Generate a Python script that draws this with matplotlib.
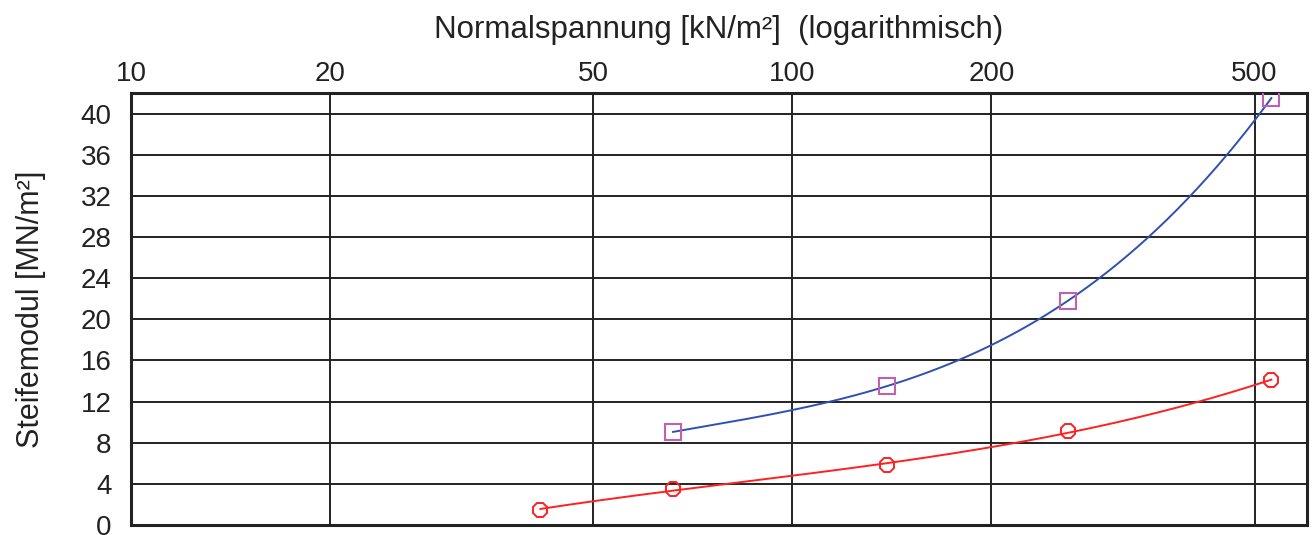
import numpy as np
import matplotlib
matplotlib.use("Agg")
import matplotlib.pyplot as plt
from matplotlib.ticker import FixedLocator, FixedFormatter, NullLocator

plt.rcParams['font.family'] = ['Liberation Sans', 'DejaVu Sans']

# Data
sq_x = [66, 139, 261, 530]
sq_y = [9.05, 13.5, 21.8, 41.5]
ci_x = [41.6, 66, 139, 261, 530]
ci_y = [1.5, 3.5, 5.8, 9.1, 14.1]
x_ticks = [10, 20, 50, 100, 200, 500]
x_ticklabels = ['10', '20', '50', '100', '200', '500']
y_ticks = list(range(0, 41, 4))

fig = plt.figure(figsize=(13.13, 5.35), dpi=100)
ax = fig.add_axes([0.0998, 0.0187, 0.8956, 0.8075])
ax.set_xscale('log')
ax.set_xlim(10, 600)
ax.set_ylim(0, 42)

def smooth(xs, ys, deg):
    lx = np.log10(xs)
    c = np.polyfit(lx, ys, deg)
    xx = np.linspace(lx[0], lx[-1], 300)
    return 10 ** xx, np.polyval(c, xx)

bx, by = smooth(sq_x, sq_y, 3)
rx, ry = smooth(ci_x, ci_y, 3)
ax.plot(bx, by, color='#3050b0', lw=1.4, zorder=3)
ax.plot(rx, ry, color='#ff2020', lw=1.4, zorder=3)
ax.plot(sq_x, sq_y, ls='none', marker='s', ms=11.5, mfc='none', mec='#c060b0', mew=1.5, zorder=4)
ax.plot(ci_x, ci_y, ls='none', marker='8', ms=11, mfc='none', mec='#ff2020', mew=1.4, zorder=4)

ax.xaxis.set_major_locator(FixedLocator(x_ticks))
ax.xaxis.set_major_formatter(FixedFormatter(x_ticklabels))
ax.xaxis.set_minor_locator(NullLocator())
ax.set_yticks(y_ticks)
ax.xaxis.tick_top()
ax.xaxis.set_label_position('top')
ax.tick_params(axis='both', length=0, labelsize=20, colors='#222222')
ax.tick_params(axis='x', pad=4)
ax.tick_params(axis='y', pad=14)
ax.grid(True, color='#222222', lw=1.4)
for s in ax.spines.values():
    s.set_linewidth(2.2)
    s.set_color('#222222')

ax.set_xlabel('Normalspannung [kN/m²]  (logarithmisch)', fontsize=22.5, color='#222222', labelpad=17)
ax.set_ylabel('Steifemodul [MN/m²]', fontsize=22, color='#222222', labelpad=25)

fig.savefig('out.png', dpi=100)
